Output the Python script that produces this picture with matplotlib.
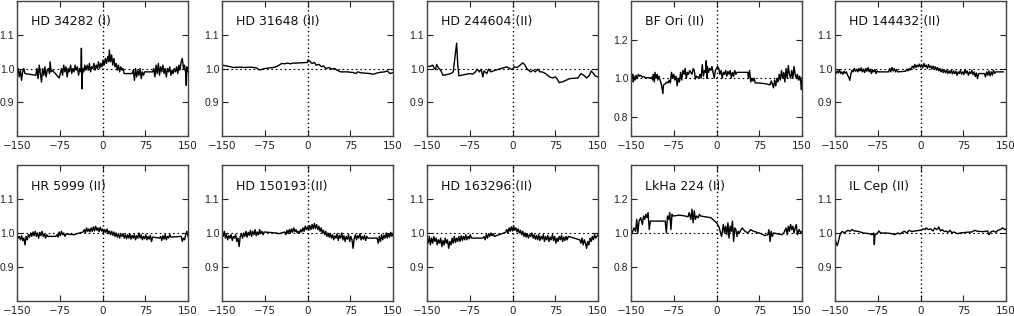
import matplotlib
matplotlib.use('Agg')
import matplotlib.pyplot as plt

plt.rcParams['font.family'] = ['DejaVu Sans']

# star names shown in each panel, row by row
names = ['HD 34282 (I)', 'HD 31648 (II)', 'HD 244604 (II)', 'BF Ori (II)', 'HD 144432 (II)',
         'HR 5999 (II)', 'HD 150193 (II)', 'HD 163296 (II)', 'LkHa 224 (II)', 'IL Cep (II)']

# (velocity km/s, normalised flux)
hd34282 = [(-150,0.99),(-148,1.0),(-146,0.975),(-144,0.995),(-142,0.965),(-140,0.99),(-138,1.0),(-136,0.985),
           (-117,0.98),(-115,1.0),(-113,0.97),(-111,1.01),(-109,0.985),(-107,0.96),(-105,1.0),(-103,0.98),
           (-101,1.005),(-99,0.975),(-97,0.995),(-95,1.0),(-93,0.985),(-92,1.02),(-90,0.99),(-88,0.995),
           (-76,0.972),(-74,0.985),(-72,1.0),(-70,0.98),(-68,1.01),(-66,0.99),(-64,1.005),(-62,0.975),
           (-60,1.0),(-58,0.99),(-56,1.01),(-54,0.985),(-52,1.0),(-50,0.99),(-48,1.01),(-46,0.995),
           (-44,1.005),(-42,0.98),(-40,1.0),(-38,0.99),(-37,1.06),(-36,0.94),(-35,1.0),(-33,0.99),
           (-31,1.01),(-29,0.995),(-27,1.01),(-25,0.995),(-23,1.015),(-21,0.99),(-19,1.005),(-17,1.0),
           (-15,1.015),(-13,0.995),(-11,1.01),(-9,1.0),(-7,1.02),(-5,1.0),(-3,1.015),(-1,1.005),
           (1,1.025),(3,1.01),(5,1.03),(7,1.015),(9,1.035),(11,1.02),(12,1.055),(14,1.02),(16,1.04),
           (18,1.01),(20,1.03),(22,1.005),(24,1.015),(26,0.995),(28,1.01),(30,0.99),(32,1.005),
           (34,0.995),(36,1.0),(38,0.985),
           (52,0.985),(54,0.995),(56,0.965),(58,1.0),(60,0.975),(62,0.995),(64,0.98),(66,1.0),
           (68,0.97),(70,0.99),(72,0.98),(74,0.99),
           (88,0.99),(90,1.0),(92,0.975),(94,1.01),(96,0.985),(98,1.015),(100,0.98),(102,1.005),
           (104,0.99),(106,1.01),(108,0.985),(110,1.0),(112,0.975),(114,1.0),(116,0.99),(118,1.005),
           (120,0.98),(122,0.995),(124,0.985),(126,1.0),(128,0.99),(130,1.005),(132,0.985),(134,1.01),
           (136,0.995),(138,1.02),(140,1.03),(142,1.0),(144,1.01),(146,0.985),(147,0.95),(148,1.005),(150,0.99)]

hd31648 = [(-150,1.01),(-140,1.007),(-130,1.003),(-120,1.004),(-110,1.003),(-100,1.004),(-90,1.002),
           (-85,0.996),(-80,0.997),(-75,1.0),(-60,1.003),(-55,1.005),(-50,1.01),(-45,1.015),(-40,1.014),
           (-35,1.016),(-30,1.014),(-25,1.016),(-20,1.016),(-10,1.017),(0,1.018),(1,1.026),(5,1.02),
           (8,1.015),(12,1.018),(15,1.01),(20,1.012),(25,1.005),(28,1.008),(32,1.0),(38,1.003),
           (42,0.998),(48,1.0),(52,0.995),(58,0.99),(70,0.99),(80,0.988),(85,0.985),(88,0.99),
           (95,0.987),(110,0.985),(115,0.983),(125,0.988),(135,0.99),(140,0.993),(145,0.985),(150,0.988)]

hd244604 = [(-150,1.007),(-145,1.006),(-140,1.01),(-137,1.0),(-135,0.997),(-133,1.012),(-130,1.002),
            (-126,0.995),(-122,0.98),(-115,0.982),(-108,0.985),(-104,0.99),(-98,1.075),(-96,1.01),
            (-94,0.978),(-90,0.98),(-75,0.985),(-70,0.983),(-65,0.99),(-62,0.998),(-58,0.99),
            (-55,0.998),(-52,0.975),(-50,0.993),(-45,0.985),(-42,0.998),(-38,0.99),(-30,0.995),
            (-20,1.0),(-10,1.005),(-5,1.0),(0,0.997),(3,1.005),(8,1.003),(12,1.008),(18,1.017),
            (22,1.01),(25,1.0),(28,0.995),(32,0.99),(36,0.995),(40,0.99),(44,0.998),(48,0.99),
            (52,0.99),(58,0.985),(65,0.975),(70,0.972),(75,0.975),(78,0.97),(82,0.958),(90,0.962),
            (100,0.97),(115,0.972),(120,0.985),(125,0.98),(130,0.972),(135,0.98),(138,0.993),
            (142,0.985),(145,0.978),(150,0.975)]

bfori = [(-150,1.035),(-148,1.0),(-147,1.02),(-146,0.98),(-145,1.01),(-143,0.99),(-141,1.015),(-139,1.0),
         (-137,1.02),(-135,1.01),(-133,1.015),(-130,1.005),(-127,1.008),(-124,1.0),(-120,1.003),(-116,1.0),
         (-114,1.005),(-112,0.99),(-111,1.02),(-109,0.98),(-108,1.03),(-106,1.0),(-104,1.02),(-103,0.99),
         (-101,1.01),(-97,0.97),(-94,0.92),(-93,0.965),(-90,0.97),(-87,0.98),(-85,0.975),(-83,0.99),
         (-81,0.975),(-79,1.03),(-77,1.0),(-75,1.02),(-73,0.99),(-71,1.01),(-69,0.96),(-67,1.0),
         (-65,0.98),(-63,1.03),(-61,0.99),(-59,1.04),(-57,1.02),(-55,1.05),(-53,1.0),(-51,1.03),
         (-49,1.02),(-47,1.04),(-45,1.03),(-43,1.02),(-41,1.05),(-39,1.04),(-37,0.995),(-35,1.01),
         (-31,1.0),(-29,1.02),(-27,1.0),(-25,1.07),(-23,1.01),(-21,1.04),(-19,1.03),(-18,1.09),
         (-17,1.0),(-16,1.06),(-14,1.03),(-12,1.05),(-10,1.04),(-8,1.06),(-6,1.03),(-4,1.0),
         (-2,1.04),(0,1.05),(2,1.06),(4,1.05),(6,1.02),(8,1.04),(10,1.0),(12,1.03),(14,1.02),
         (16,1.04),(18,1.01),(20,1.035),(22,1.02),(24,1.04),(26,1.0),(28,1.03),(30,1.01),(32,1.04),
         (34,1.02),(36,1.03),(55,1.03),(56,1.0),(58,1.04),(60,0.98),(62,1.0),(64,0.985),(66,1.0),
         (68,0.975),(72,0.975),(80,0.973),(88,0.97),(94,0.965),(96,0.985),(98,0.97),(100,0.95),
         (102,0.99),(104,0.96),(106,1.0),(108,0.98),(110,1.02),(112,0.99),(114,1.04),(116,1.0),
         (118,1.03),(120,0.98),(122,1.05),(124,1.0),(126,1.065),(128,1.02),(130,1.0),(132,1.04),
         (134,1.0),(136,1.06),(138,1.02),(140,1.0),(142,1.02),(144,0.99),(146,1.01),(148,0.975),
         (149,0.94),(150,1.0)]

hd144432 = [(-150,0.99),(-148,0.985),(-146,0.993),(-144,0.987),(-142,0.995),(-140,0.985),(-138,0.99),
            (-136,0.983),(-134,0.992),(-132,0.986),(-130,0.99),(-128,0.98),(-126,0.975),(-124,0.965),
            (-122,0.985),(-120,0.995),(-118,0.99),(-116,1.0),(-114,0.992),(-112,0.998),(-110,0.99),
            (-108,1.0),(-106,0.993),(-104,1.002),(-102,0.99),(-100,0.998),(-98,0.988),(-96,1.0),
            (-94,0.992),(-92,1.003),(-90,0.99),(-88,0.998),(-86,0.985),(-84,0.995),(-82,0.99),
            (-80,0.997),(-78,0.985),(-76,0.993),(-74,0.99),
            (-56,0.99),(-54,1.0),(-52,0.99),(-50,1.003),(-48,0.993),(-46,1.0),(-44,0.99),(-42,0.997),(-40,0.99),
            (-26,0.992),(-24,0.998),(-22,0.993),(-20,1.0),(-18,0.995),(-16,1.002),(-14,1.007),(-12,1.0),
            (-10,1.012),(-8,1.003),(-6,1.01),(-4,1.005),(-2,1.013),(0,1.004),(2,1.01),(4,1.002),
            (6,1.015),(8,1.005),(10,1.01),(12,1.0),(14,1.012),(16,1.003),(18,1.008),(20,0.998),
            (22,1.007),(24,1.0),(26,1.005),(28,0.995),(30,1.003),(32,0.993),(34,1.0),(36,0.99),
            (38,0.998),(40,0.988),(42,0.996),(44,0.987),(46,0.995),(48,0.985),(50,0.993),(52,0.986),
            (54,0.995),(56,0.984),(58,0.993),(60,0.985),(62,0.992),(64,0.98),(66,0.99),(68,0.985),
            (70,0.995),(72,0.983),(74,0.99),(76,0.982),(78,0.996),(80,0.986),(82,0.993),(84,0.98),
            (86,0.99),(88,0.985),(90,0.995),(92,0.982),(94,0.99),(96,0.976),(98,0.987),(100,0.97),(102,0.985),
            (112,0.985),(114,0.975),(116,0.99),(118,0.98),(120,0.993),(122,0.978),(124,0.99),(126,0.98),
            (128,0.995),(130,0.985),(132,0.99),(145,0.99)]

hr5999 = [(-150,0.995),(-148,0.985),(-146,0.99),(-144,0.98),(-142,0.992),(-140,0.978),(-138,0.985),
          (-136,0.965),(-134,0.99),(-132,0.98),(-130,0.995),(-128,0.988),(-126,1.0),(-124,0.99),
          (-122,1.003),(-120,0.992),(-118,1.005),(-116,0.99),(-114,1.0),(-112,0.985),(-110,1.002),
          (-108,0.992),(-106,1.005),(-104,0.99),(-102,0.998),(-100,0.985),(-98,0.995),(-96,0.99),
          (-82,0.99),(-80,0.995),(-78,0.988),(-76,1.003),(-74,0.992),(-72,1.005),(-70,0.995),(-68,1.0),
          (-66,0.99),(-64,0.997),
          (-50,0.995),(-45,0.998),(-40,1.0),(-34,1.003),(-32,1.01),(-30,1.0),(-28,1.015),(-26,1.005),
          (-24,1.012),(-22,1.003),(-20,1.015),(-18,1.005),(-16,1.018),(-14,1.006),(-12,1.02),(-10,1.008),
          (-8,1.015),(-6,1.004),(-4,1.017),(-2,1.006),(0,1.012),(2,1.0),(4,1.01),(6,1.002),(8,1.012),
          (10,0.998),(12,1.006),(14,0.995),(16,1.005),(18,0.993),(20,1.003),(22,0.99),(24,1.0),
          (26,0.988),(28,0.998),(30,0.985),(32,0.996),(34,0.99),(36,0.998),(38,0.985),(40,0.995),
          (42,0.983),(44,0.995),(46,0.985),(48,0.997),(50,0.982),(52,0.993),(54,0.985),(56,0.995),
          (58,0.98),(60,0.992),(62,0.985),(64,1.0),(66,0.985),(68,0.995),(70,0.98),(72,0.99),
          (74,0.983),(76,0.995),(78,0.98),(80,0.99),(82,0.982),(84,0.993),(86,0.975),(88,0.988),
          (100,0.985),(102,0.99),(104,0.978),(106,0.992),(108,0.982),(110,0.995),(112,0.98),
          (114,0.99),(116,0.985),(118,0.995),(120,0.988),
          (138,0.99),(140,0.975),(142,0.985),(144,0.98),(146,0.995),(148,1.005),(150,0.99)]

hd150193 = [(-150,1.0),(-148,0.99),(-146,1.005),(-144,0.985),(-142,0.995),(-140,0.98),(-138,0.992),
            (-136,0.985),(-134,0.995),(-132,0.978),(-130,0.99),(-128,0.985),(-126,0.995),(-124,0.975),
            (-122,0.985),(-120,0.96),(-118,0.99),(-116,0.998),(-114,0.985),(-112,1.0),(-110,0.99),
            (-108,1.005),(-106,0.988),(-104,1.002),(-102,0.993),(-100,1.008),(-98,0.99),(-96,1.005),
            (-94,0.995),(-92,1.01),(-90,0.992),(-88,1.003),(-86,0.995),(-84,1.01),(-82,0.998),
            (-80,1.005),(-78,0.995),(-76,1.003),
            (-55,1.0),(-50,0.998),(-40,1.003),(-38,0.995),(-36,1.008),(-34,0.998),(-32,1.01),(-30,1.0),
            (-28,1.012),(-26,1.002),(-24,1.015),(-22,1.004),(-20,1.01),(-18,1.0),(-16,1.005),(-14,1.0),
            (-12,1.01),(-10,1.003),(-8,1.015),(-6,1.005),(-4,1.02),(-2,1.01),(0,1.018),(2,1.008),
            (4,1.022),(6,1.01),(8,1.025),(10,1.012),(12,1.028),(14,1.013),(16,1.025),(18,1.01),
            (20,1.02),(22,1.005),(24,1.015),(26,1.0),(28,1.008),(30,0.995),(32,1.005),(34,0.99),
            (36,1.0),(38,0.988),(40,0.998),(42,0.985),(44,0.995),(46,0.98),(48,0.992),(50,0.985),
            (52,0.998),(54,0.978),(56,0.993),(58,0.985),(60,1.0),(62,0.98),(64,0.992),(66,0.975),
            (68,0.99),(70,0.982),(72,0.995),(74,0.975),(76,0.99),(78,0.98),(80,0.955),(82,0.985),
            (84,0.995),(86,0.98),(88,0.992),(90,0.985),(92,0.998),(94,0.98),(96,0.99),(98,0.982),
            (100,0.993),(102,0.978),(104,0.99),(106,0.985),
            (122,0.985),(124,0.97),(126,0.99),(128,0.975),(130,0.995),(132,0.98),(134,0.993),
            (136,0.985),(138,1.0),(140,0.985),(142,0.997),(144,0.988),(146,1.002),(148,0.99),(150,0.998)]

hd163296 = [(-150,0.985),(-148,0.97),(-146,0.99),(-144,0.965),(-142,0.985),(-140,0.97),(-138,0.99),
            (-136,0.975),(-134,0.985),(-132,0.965),(-130,0.98),(-128,0.97),(-126,0.985),(-124,0.96),
            (-122,0.978),(-120,0.965),(-118,0.985),(-116,0.97),(-114,0.98),(-112,0.955),(-110,0.975),
            (-108,0.965),(-106,0.985),(-104,0.97),(-102,0.99),(-100,0.972),(-98,0.985),(-96,0.975),
            (-94,0.99),(-92,0.975),(-90,0.992),(-88,0.978),(-86,0.99),(-84,0.98),(-82,0.995),
            (-80,0.98),(-78,0.99),(-76,0.983),(-74,0.995),(-72,0.985),
            (-52,0.985),(-50,0.99),(-48,0.98),(-46,0.995),(-44,0.985),(-42,0.998),(-40,0.99),
            (-38,1.0),(-36,0.992),(-34,0.998),(-32,0.99),
            (-12,1.002),(-10,1.01),(-8,1.0),(-6,1.015),(-4,1.005),(-2,1.018),(0,1.006),(2,1.02),
            (4,1.008),(6,1.015),(8,1.003),(10,1.012),(12,1.0),(14,1.008),(16,0.995),(18,1.005),
            (20,0.99),(22,1.0),(24,0.988),(26,0.998),(28,0.985),(30,0.995),(32,0.99),(34,1.0),
            (36,0.985),(38,0.995),(40,0.982),(42,0.993),(44,0.98),(46,0.995),(48,0.978),(50,0.99),
            (52,0.982),(54,0.995),(56,0.975),(58,0.99),(60,0.98),(62,0.993),(64,0.975),(66,0.988),
            (68,0.98),(70,0.995),(72,0.978),(74,0.99),(76,0.97),(78,0.985),(80,0.975),(82,0.99),
            (84,0.98),(86,0.993),(88,0.975),(90,0.988),(92,0.978),(94,0.99),(96,0.98),(98,0.99),
            (118,0.98),(120,0.97),(122,0.985),(124,0.965),(126,0.98),(128,0.97),(130,0.955),
            (132,0.975),(134,0.965),(136,0.985),(138,0.975),(140,0.99),(142,0.98),(144,0.995),
            (146,0.985),(148,0.99),(150,0.995)]

lkha224 = [(-150,1.02),(-148,1.0),(-145,1.03),(-142,1.01),(-140,1.08),(-138,1.0),(-136,1.07),(-133,1.09),
           (-130,1.05),(-128,1.1),(-126,1.08),(-124,1.11),(-122,1.09),(-120,1.12),(-118,1.02),(-116,1.07),
           (-90,1.07),(-88,1.0),(-86,1.1),(-84,1.08),(-82,1.12),(-80,1.02),(-78,1.11),(-76,1.1),
           (-65,1.105),(-55,1.1),(-50,1.095),(-48,1.12),(-45,1.08),(-43,1.14),(-41,1.06),(-39,1.13),
           (-37,1.08),(-35,1.1),(-32,1.09),(-30,1.11),(-28,1.1),(-10,1.09),(0,1.06),(2,1.05),
           (5,1.03),(7,1.0),(9,0.98),(12,1.05),(14,1.0),(16,1.04),(18,0.99),(20,1.06),(22,0.97),
           (24,1.04),(26,1.01),(28,1.07),(30,0.95),(32,1.03),(34,1.02),(36,0.98),(38,1.01),(40,1.0),
           (45,1.03),(50,1.01),(55,1.0),(60,1.02),(65,1.01),(75,1.0),(85,0.985),(90,0.99),(92,1.02),
           (94,0.95),(96,1.01),(98,0.98),(100,1.0),(115,0.99),(118,1.0),(122,1.03),(124,0.99),
           (126,1.04),(128,1.01),(130,1.05),(132,1.02),(134,1.04),(136,1.0),(138,1.03),(140,1.05),
           (142,0.99),(145,1.02),(148,1.0),(150,1.01)]

ilcep = [(-150,0.985),(-148,0.97),(-146,0.963),(-144,0.975),(-142,0.99),(-140,1.0),(-137,1.005),
         (-134,1.0),(-130,1.005),(-127,1.008),(-124,1.005),(-120,1.01),(-116,1.006),(-110,1.005),
         (-100,1.0),(-90,0.998),(-85,0.995),(-82,1.0),(-81,0.966),(-80,0.995),(-76,0.998),(-73,1.006),
         (-70,1.0),(-60,1.0),(-50,0.998),(-45,0.995),(-40,1.0),(-36,0.997),(-32,1.002),(-28,1.005),
         (-24,1.0),(-20,1.008),(-15,1.004),(-10,1.006),(0,1.008),(5,1.012),(8,1.01),(10,1.015),
         (14,1.01),(18,1.012),(22,1.006),(25,1.015),(28,1.01),(30,1.012),(32,1.018),(35,1.006),
         (38,1.01),(42,1.004),(45,1.006),(48,1.002),(52,1.008),(55,1.0),(58,1.003),(65,0.998),
         (70,1.0),(80,1.002),(90,1.003),(95,1.008),(100,1.005),(110,1.004),(118,1.006),(120,0.995),
         (124,1.004),(128,1.006),(132,1.002),(136,1.008),(140,1.01),(144,1.015),(148,1.01),(150,1.012)]

profiles = [hd34282, hd31648, hd244604, bfori, hd144432,
            hr5999, hd150193, hd163296, lkha224, ilcep]

xticks = [-150, -75, 0, 75, 150]
ylims = [(0.8, 1.2)] * 10
ylims[3] = (0.7, 1.4)
ylims[8] = (0.6, 1.4)
small_ticks = [0.9, 1.0, 1.1]
wide_ticks = [0.8, 1.0, 1.2]

fig = plt.figure(figsize=(10.14, 3.16), dpi=100)

# panel edges in pixels
lefts = [17, 222, 427, 631, 835]
rows = [(1, 136), (165, 301)]
W, H = 1014.0, 316.0

for i, (name, prof) in enumerate(zip(names, profiles)):
    r, c = divmod(i, 5)
    top, bot = rows[r]
    ax = fig.add_axes([lefts[c] / W, 1 - bot / H, 171 / W, (bot - top) / H])
    v = [p[0] for p in prof]
    f = [p[1] for p in prof]
    ax.plot(v, f, color='black', lw=1.0)
    ax.axhline(1.0, color='black', lw=0.8, ls=(0, (1.5, 2.5)))
    ax.axvline(0, color='black', lw=1.0, ls=(0, (1, 2)))
    ax.set_xlim(-150, 150)
    ax.set_ylim(*ylims[i])
    ax.set_xticks(xticks)
    ax.set_xticklabels([str(t) if t >= 0 else '\u2212' + str(-t) for t in xticks])
    yt = wide_ticks if i in (3, 8) else small_ticks
    ax.set_yticks(yt)
    ax.set_yticklabels(['%.1f' % t for t in yt], family='Liberation Sans', fontsize=7.5)
    ax.tick_params(direction='in', top=True, right=True, length=4, width=0.8,
                   labelsize=7.5, colors='#222222')
    ax.tick_params(axis='x', pad=3.5)
    ax.tick_params(axis='y', pad=2)
    for s in ax.spines.values():
        s.set_linewidth(1.0)
        s.set_color('#444444')
    ax.text(0.08, 0.845, name, transform=ax.transAxes, fontsize=9,
            va='center', ha='left', color='#111111')

fig.savefig('out.png', dpi=100)
